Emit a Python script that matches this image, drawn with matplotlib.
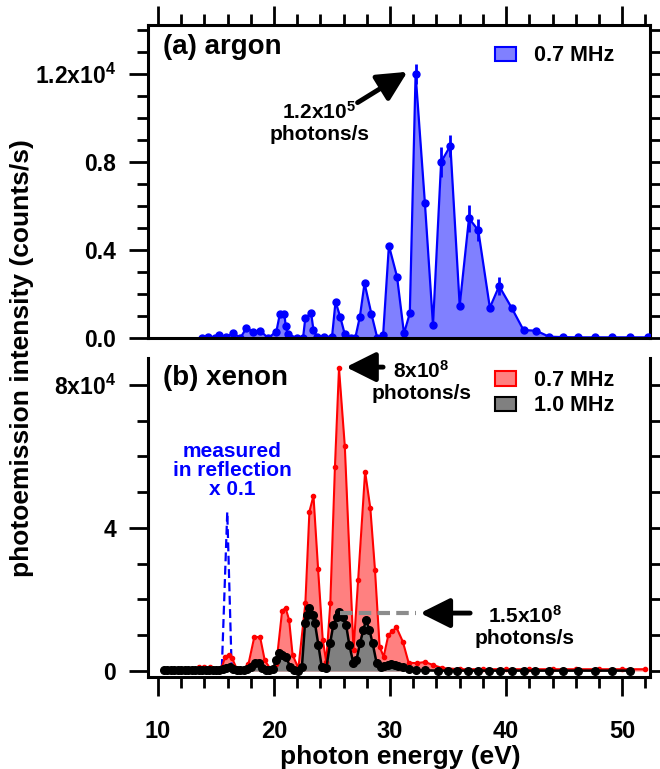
import numpy as np
import matplotlib
matplotlib.use("Agg")
import matplotlib.pyplot as plt
from matplotlib.patches import Patch
from matplotlib.ticker import MultipleLocator, FixedLocator

plt.rcParams['font.family'] = ['Liberation Sans', 'DejaVu Sans']
plt.rcParams['font.weight'] = 'bold'
plt.rcParams['mathtext.fontset'] = 'custom'
plt.rcParams['mathtext.rm'] = 'Liberation Sans:bold'
plt.rcParams['mathtext.bf'] = 'Liberation Sans:bold'
plt.rcParams['mathtext.it'] = 'Liberation Sans:bold'

# (a) argon, 0.7 MHz -- intensity in units of 1e4 counts/s
ar_e = [13.8, 14.3, 14.9, 15.3, 15.9, 16.5, 17.1, 17.6, 18.2, 18.8,
        19.5, 20.2, 20.5, 20.9, 21.0, 21.2, 22.0, 22.5, 22.7, 23.2,
        23.4, 23.7, 24.3, 25.0, 25.3, 25.7, 26.1, 26.6, 27.0, 27.4,
        27.8, 28.4, 28.9, 29.4, 29.9, 30.6, 31.2, 31.7, 32.2, 33.0,
        33.7, 34.4, 35.2, 36.0, 36.8, 37.6, 38.6, 39.4, 40.5, 41.5,
        42.6, 43.7, 44.9, 46.2, 47.7, 49.1, 50.7, 52.2]
ar_v = [0.0, 0.006, 0.0, 0.012, 0.006, 0.021, 0.0, 0.044, 0.029, 0.033,
        0.0, 0.029, 0.108, 0.108, 0.056, 0.017, 0.0, 0.0, 0.092, 0.112,
        0.036, 0.006, 0.006, 0.006, 0.165, 0.097, 0.017, 0.0, 0.0, 0.097,
        0.249, 0.108, 0.0, 0.012, 0.42, 0.279, 0.021, 0.112, 1.2, 0.615,
        0.059, 0.80, 0.874, 0.147, 0.544, 0.49, 0.138, 0.236, 0.135, 0.036,
        0.033, 0.006, 0.004, 0.003, 0.003, 0.003, 0.003, 0.003]
ar_err_e = [32.2, 34.4, 35.2, 36.8, 37.6, 39.4]
ar_err_v = [1.2, 0.80, 0.874, 0.544, 0.49, 0.236]
ar_err = [0.045, 0.07, 0.05, 0.06, 0.05, 0.04]

# (b) xenon, 0.7 MHz (red)
xe07_e = [10.5, 11.5, 12.5, 13.5, 14.0, 14.5, 15.0, 15.5, 15.8, 16.1,
          16.4, 16.8, 17.3, 17.8, 18.3, 18.8, 19.2, 19.7, 20.2, 20.7,
          21.0, 21.3, 21.6, 22.1, 22.7, 23.05, 23.4, 23.8, 24.2, 24.5,
          24.85, 25.25, 25.6, 26.1, 26.85, 27.25, 27.85, 28.3, 28.7, 29.1,
          29.45, 29.85, 30.2, 30.55, 31.1, 31.6, 32.3, 33.0, 33.7, 34.5,
          36.0, 38.0, 40.0, 42.0, 44.0, 46.0, 48.0, 50.0, 52.0]
xe07_v = [0.02, 0.02, 0.03, 0.1, 0.12, 0.1, 0.02, 0.1, 0.4, 0.45,
          0.35, 0.05, 0.02, 0.2, 0.95, 0.95, 0.3, 0.05, 0.2, 1.69,
          1.76, 1.43, 0.45, 0.08, 1.89, 4.46, 4.9, 2.84, 0.87, 0.26,
          1.89, 5.71, 8.47, 6.29, 0.59, 2.55, 5.58, 4.55, 2.83, 0.68,
          0.40, 1.0, 1.12, 1.22, 0.82, 0.23, 0.22, 0.25, 0.17, 0.08,
          0.05, 0.05, 0.05, 0.05, 0.05, 0.05, 0.05, 0.05, 0.05]

# (b) xenon, 1.0 MHz (black)
xe10_e = [10.5, 10.8, 11.1, 11.4, 11.7, 12.0, 12.3, 12.6, 12.9, 13.2,
          13.5, 13.8, 14.1, 14.4, 14.7, 15.0, 15.3, 15.6, 15.9, 16.2,
          16.5, 16.8, 17.1, 17.4, 17.7, 18.0, 18.4, 18.7, 19.0, 19.3,
          19.6, 19.9, 20.2, 20.4, 20.7, 21.0, 21.4, 21.7, 22.1, 22.4,
          22.67, 22.8, 23.05, 23.39, 23.53, 23.82, 24.11, 24.5, 24.83, 25.11,
          25.4, 25.63, 25.97, 26.21, 26.49, 26.84, 27.1, 27.41, 27.7, 27.93,
          28.22, 28.5, 28.85, 29.2, 29.5, 29.8, 30.1, 30.4, 30.7, 31.1,
          31.6, 32.2, 33.0, 34.1, 35.0, 35.8, 36.7, 37.6, 38.5, 39.5,
          40.5, 41.5, 42.5, 43.7, 44.9, 46.2, 47.7, 49.1, 50.7]
xe10_v = [0.02, 0.02, 0.02, 0.02, 0.02, 0.02, 0.02, 0.02, 0.02, 0.02,
          0.02, 0.02, 0.02, 0.02, 0.02, 0.02, 0.03, 0.05, 0.08, 0.1,
          0.05, 0.02, 0.02, 0.02, 0.05, 0.1, 0.21, 0.21, 0.08, 0.02,
          0.02, 0.05, 0.3, 0.49, 0.46, 0.40, 0.12, 0.04, 0.0, 0.1,
          1.33, 1.57, 1.75, 1.57, 1.33, 0.73, 0.12, 0.07, 0.77, 1.29,
          1.52, 1.66, 1.52, 1.29, 0.73, 0.21, 0.3, 0.78, 1.15, 1.43,
          1.15, 0.77, 0.21, 0.1, 0.15, 0.18, 0.2, 0.18, 0.15, 0.1,
          0.05, 0.02, 0.02, 0.01, 0.01, 0.01, 0.01, 0.01, 0.01, 0.01,
          0.01, 0.01, 0.01, 0.01, 0.01, 0.01, 0.01, 0.01, 0.01]

# measured in reflection, scaled x 0.1 (blue dashed)
refl_e = [14.5, 15.2, 15.5, 15.97, 16.35, 16.7, 17.6]
refl_v = [0.0, 0.0, 0.05, 4.45, 0.05, 0.0, 0.0]

W, H = 660, 769
fig = plt.figure(figsize=(W / 100, H / 100), dpi=100)


def box(l, t, r, b):
    return [l / W, 1 - b / H, (r - l) / W, (b - t) / H]


ax1 = fig.add_axes(box(148, 25, 650, 338))
ax2 = fig.add_axes(box(148, 358, 650, 677))

# ---- top panel: argon
ax1.fill_between(ar_e, ar_v, 0, color='#8080ff', lw=0)
ax1.plot(ar_e, ar_v, '-o', color='#0000ff', lw=1.6, ms=5)
ax1.errorbar(ar_err_e, ar_err_v, yerr=ar_err, fmt='none', ecolor='#0000ff',
             elinewidth=2, capsize=0)

ax1.set_xlim(9.14, 52.4)
ax1.set_ylim(0, 1.4227)
ax1.xaxis.set_major_locator(MultipleLocator(10))
ax1.xaxis.set_minor_locator(MultipleLocator(2))
ax1.tick_params(axis='x', which='both', top=True, bottom=False,
                labelbottom=False, labeltop=False, direction='out', width=2)
ax1.tick_params(axis='x', which='major', length=14)
ax1.tick_params(axis='x', which='minor', length=8)
ax1.yaxis.set_major_locator(FixedLocator([0, 0.4, 0.8, 1.2]))
ax1.yaxis.set_minor_locator(MultipleLocator(0.1))
ax1.set_yticklabels(['0.0', '0.4', '0.8', r'1.2x10$^{4}$'])
ax1.tick_params(axis='y', which='both', left=True, right=False,
                direction='out', width=2, labelsize=16.5, pad=9)
ax1.tick_params(axis='y', which='major', length=14)
ax1.tick_params(axis='y', which='minor', length=8)
for s in ax1.spines.values():
    s.set_linewidth(2.2)
ax1.spines['right'].set_visible(False)
sec1 = ax1.secondary_yaxis('right')
sec1.set_yticks(np.arange(0, 1.45, 0.1))
sec1.set_yticklabels([])
sec1.tick_params(direction='out', length=8, width=2)
sec1.spines['right'].set_linewidth(2.2)

ax1.text(0.03, 0.93, '(a) argon', transform=ax1.transAxes, fontsize=20,
         va='center', ha='left')
ax1.legend(handles=[Patch(facecolor='#8080ff', edgecolor='#0000ff', lw=1.5)],
           labels=['0.7 MHz'], loc='upper left', bbox_to_anchor=(0.691, 0.935),
           frameon=False, fontsize=15.5, handlelength=1.0, handleheight=0.65,
           handletextpad=0.8, borderpad=0, borderaxespad=0)
ax1.annotate('', xy=(31.5, 1.21), xytext=(27.2, 1.07),
             arrowprops=dict(arrowstyle='-|>,head_length=0.9,head_width=0.45',
                             lw=3.5, color='black', shrinkA=0, shrinkB=0,
                             mutation_scale=20))
ax1.text(23.9, 0.98, '1.2x10$^{5}$\nphotons/s', ha='center', va='center',
         fontsize=15, linespacing=1.1)

# ---- bottom panel: xenon
ax2.fill_between(xe07_e, xe07_v, 0, color='#ff8080', lw=0)
ax2.fill_between(xe10_e, xe10_v, 0, color='#808080', lw=0)
ax2.plot(refl_e, refl_v, '--', color='#0000ff', lw=1.6, dashes=(4, 2))
ax2.plot(xe07_e, xe07_v, '-o', color='#ff0000', lw=1.5, ms=3)
ax2.plot(xe10_e, xe10_v, '-o', color='black', lw=1.8, ms=5.5)
ax2.plot([25.7, 32.2], [1.62, 1.62], '--', color='#8c8c8c', lw=3,
         dashes=(3, 1.5))

ax2.set_xlim(9.14, 52.4)
ax2.set_ylim(-0.168, 8.755)
ax2.xaxis.set_major_locator(MultipleLocator(10))
ax2.xaxis.set_minor_locator(MultipleLocator(2))
ax2.tick_params(axis='x', which='both', direction='out', width=2,
                labelsize=17, pad=17)
ax2.tick_params(axis='x', which='major', length=14)
ax2.tick_params(axis='x', which='minor', length=8)
ax2.yaxis.set_major_locator(FixedLocator([0, 4, 8]))
ax2.yaxis.set_minor_locator(MultipleLocator(1))
ax2.set_yticklabels(['0', '4', r'8x10$^{4}$'])
ax2.tick_params(axis='y', which='both', left=True, right=False,
                direction='out', width=2, labelsize=16.5, pad=9)
ax2.tick_params(axis='y', which='major', length=14)
ax2.tick_params(axis='y', which='minor', length=8)
for s in ax2.spines.values():
    s.set_linewidth(2.2)
ax2.spines['top'].set_visible(False)
ax2.spines['right'].set_visible(False)
sec2 = ax2.secondary_yaxis('right')
sec2.set_yticks(np.arange(0, 9, 1))
sec2.set_yticklabels([])
sec2.tick_params(direction='out', length=8, width=2)
sec2.spines['right'].set_linewidth(2.2)

ax2.text(0.03, 0.937, '(b) xenon', transform=ax2.transAxes, fontsize=20,
         va='center', ha='left')
ax2.legend(handles=[Patch(facecolor='#ff8080', edgecolor='#ff0000', lw=1.5),
                    Patch(facecolor='#808080', edgecolor='black', lw=1.5)],
           labels=['0.7 MHz', '1.0 MHz'], loc='upper left',
           bbox_to_anchor=(0.691, 0.962), frameon=False, fontsize=15.5,
           handlelength=1.0, handleheight=0.65, handletextpad=0.8,
           labelspacing=0.2, borderpad=0, borderaxespad=0)
ax2.annotate('', xy=(26.2, 8.5), xytext=(29.4, 8.5),
             arrowprops=dict(arrowstyle='-|>,head_length=0.9,head_width=0.45',
                             lw=3.5, color='black', shrinkA=0, shrinkB=0,
                             mutation_scale=20))
ax2.text(32.7, 8.1, '8x10$^{8}$\nphotons/s', ha='center', va='center',
         fontsize=15, linespacing=1.1)
ax2.annotate('', xy=(32.6, 1.62), xytext=(36.9, 1.62),
             arrowprops=dict(arrowstyle='-|>,head_length=0.9,head_width=0.45',
                             lw=3.5, color='black', shrinkA=0, shrinkB=0,
                             mutation_scale=20))
ax2.text(41.6, 1.25, '1.5x10$^{8}$\nphotons/s', ha='center', va='center',
         fontsize=15, linespacing=1.1)
ax2.text(16.4, 5.6, 'measured\nin reflection\nx 0.1', ha='center',
         va='center', fontsize=15, color='#0000ff', linespacing=1.0)

fig.text(22 / W, 1 - 358 / H, 'photoemission intensity (counts/s)',
         rotation=90, ha='center', va='center', fontsize=19)
fig.text(400 / W, 1 - 757 / H, 'photon energy (eV)', ha='center',
         va='center', fontsize=19)

fig.savefig('out.png', dpi=100)
